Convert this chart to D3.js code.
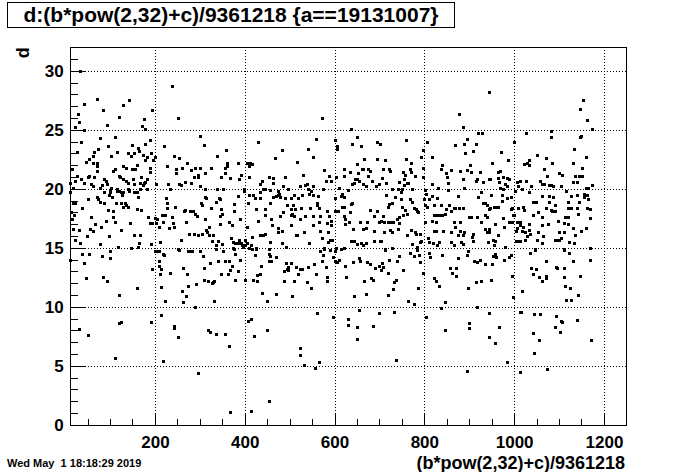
<!DOCTYPE html>
<html><head><meta charset="utf-8">
<script src="https://cdn.jsdelivr.net/npm/d3@7"></script>
<style>
html,body{margin:0;padding:0;background:#fff;}
svg{display:block;}
text{font-family:"Liberation Sans",Arial,Helvetica,sans-serif;font-weight:bold;fill:#000;}
</style></head>
<body><svg id="c" width="696" height="472"></svg>
<script>
const titleText = "d:(b*pow(2,32)+c)/9361218 {a==19131007}";
const xTitle = "(b*pow(2,32)+c)/9361218";
const yTitle = "d";
const dateText = "Wed May  1 18:18:29 2019";
const xDomain = [10, 1250];
const yDomain = [0, 32];
const xTickValues = [200, 400, 600, 800, 1000, 1200];
const xTickLabels = ["200", "400", "600", "800", "1000", "1200"];
const yTickValues = [0, 5, 10, 15, 20, 25, 30];
const yTickLabels = ["0", "5", "10", "15", "20", "25", "30"];

// [x, d] points, grouped by x range
const pointsSeg1 = [[34,30.0],[239,28.7],[72,27.6],[41,27.2],[142,27.5],[130,27.1],[85,26.7],[29,26.3],[121,26.1],[32,25.7],[194,26.7],[252,26.0],[176,25.9],[93,25.4],[21,25.2],[41,25.0],[172,25.3],[179,25.1],[301,24.5],[78,24.3],[36,24.0],[112,24.4],[188,24.1],[310,23.7],[179,23.8],[96,23.6],[221,23.6],[148,23.7],[163,23.5],[74,23.4],[27,23.1],[65,23.1],[115,23.1],[140,23.0],[154,23.0],[165,23.2],[174,22.9],[192,23.0],[146,22.8],[103,22.8],[63,22.8],[243,22.8],[183,22.7],[254,22.6],[201,22.7],[196,22.4],[47,22.3],[54,22.5],[61,22.2],[70,22.2],[179,22.4],[272,22.2],[16,21.7],[70,21.9],[228,21.9],[130,21.9],[136,21.8],[159,22.0],[156,21.7],[150,21.7],[112,21.7],[107,21.5],[190,21.8],[248,21.7],[261,21.8],[290,21.8],[301,21.8],[281,21.6],[72,21.5],[190,21.4],[248,21.3],[312,21.3],[27,21.1],[50,21.0],[54,21.1],[65,21.0],[119,21.1],[123,21.0],[295,21.2],[295,21.0],[286,21.0],[130,20.8],[136,20.7],[152,20.8],[170,21.0],[183,20.8],[179,20.6],[176,20.5],[167,20.5],[154,20.4],[139,20.5],[23,20.7],[36,20.8],[87,20.8],[92,20.7],[268,20.6],[281,20.5],[12,20.5],[58,20.4],[41,20.5],[63,20.2],[78,20.1],[83,20.3],[94,20.4],[174,20.3],[167,20.0],[183,20.0],[203,20.4],[230,20.4],[254,20.4],[259,20.3],[234,20.0],[17,20.1],[103,20.1],[116,20.0],[139,20.0],[301,20.2],[312,20.0],
[12,19.7],[87,19.7],[99,19.8],[101,19.7],[116,19.8],[121,19.8],[125,19.7],[130,19.7],[143,19.8],[154,19.7],[161,19.7],[98,19.5],[105,19.3],[163,19.3],[70,19.3],[127,19.5],[225,19.2],[314,19.2],[312,19.3],[52,19.1],[74,19.1],[78,18.9],[23,18.8],[18,18.8],[134,18.8],[125,18.8],[114,18.8],[87,18.8],[228,18.8],[303,18.8],[305,18.6],[38,18.4],[130,18.5],[139,18.5],[136,18.6],[228,18.4],[245,18.5],[161,18.3],[170,18.2],[268,18.2],[285,18.1],[279,18.1],[96,18.2],[14,18.0],[265,18.1],[107,18.1],[290,17.9],[20,17.8],[216,17.8],[223,17.8],[294,17.7],[58,17.6],[107,17.6],[185,17.6],[239,17.6],[201,17.5],[205,17.4],[16,17.4],[312,17.4],[92,17.3],[112,17.2],[219,17.2],[270,17.2],[145,17.1],[188,17.1],[194,17.1],[203,17.1],[241,17.1],[67,17.0],[81,16.8],[243,16.8],[208,16.8],[232,16.7],[56,16.6],[18,16.6],[125,16.5],[32,16.5],[314,16.5],[61,16.4],[317,16.3],[277,16.2],[288,16.2],[297,16.1],[305,16.2],[154,16.1],[167,16.1],[49,16.0],[98,16.0],[21,15.7],[259,15.7],[212,15.5],[34,15.4],[165,15.4],[78,15.3],[192,15.3],[163,15.1],[118,15.1],[147,15.0],[252,14.9],
[38,14.5],[54,14.5],[83,14.3],[101,14.7],[99,14.1],[12,14.0],[43,13.7],[201,14.7],[205,14.7],[210,14.7],[217,14.5],[221,14.4],[254,14.8],[274,14.7],[279,14.7],[283,14.7],[301,14.7],[308,14.3],[210,13.85],[208,13.5],[323,13.7],[194,13.2],[214,13.2],[212,12.8],[234,12.9],[263,13.3],[272,12.8],[310,13.3],[47,12.4],[85,12.5],[94,12.2],[159,11.6],[119,11.0],[214,11.7],[274,11.8],[292,11.9],[310,12.3],[319,12.2],[261,11.3],[270,10.9],[223,10.5],[263,10.4],[290,9.95],[214,9.3],[121,8.6],[125,8.7],[192,8.7],[32,8.1],[52,7.6],[243,8.4],[243,8.2],[252,7.4],[319,8.0],[110,5.7],[219,5.4],[297,4.4]];

const pointsSeg2 = [[571,26.0],[430,24.0],[559,24.2],[602,24.1],[606,23.6],[606,23.4],[359,23.3],[482,23.3],[542,23.4],[339,22.8],[553,22.7],[468,22.6],[517,22.3],[361,22.2],[386,22.2],[406,22.2],[412,22.2],[417,22.1],[410,21.9],[326,21.8],[355,21.8],[361,21.9],[392,21.2],[355,21.3],[348,21.0],[368,20.9],[388,20.8],[410,21.0],[455,21.0],[464,20.9],[490,21.0],[530,21.2],[577,21.6],[622,21.7],[588,21.1],[604,21.0],[622,21.1],[439,20.7],[580,20.7],[593,20.7],[464,20.5],[433,20.4],[539,20.4],[535,20.3],[524,20.2],[486,20.2],[553,20.2],[575,20.0],[611,20.1],[339,20.0],[352,20.0],[399,20.0],[399,19.8],[441,20.0],[446,20.0],[435,19.7],[457,19.9],[473,19.8],[497,20.0],[542,20.0],[548,19.8],[631,19.9],[410,19.5],[419,19.5],[477,19.6],[470,19.4],[475,19.5],[479,19.3],[464,19.3],[490,19.2],[510,19.5],[528,19.5],[544,19.6],[551,19.5],[564,19.4],[617,19.6],[615,19.4],[343,19.2],[346,19.1],[386,19.4],[424,19.2],[435,19.2],[502,19.2],[519,19.2],[602,19.2],[622,19.3],[337,18.9],[408,18.8],[457,18.8],[495,18.6],[508,18.6],[526,18.4],[546,18.4],[562,18.8],[562,18.6],[566,18.4],[617,18.5],[622,18.5],[326,18.4],[377,18.7],[348,18.3],[426,18.3],[446,18.3],[504,18.3],[513,18.3],[584,18.1],[602,18.1],[608,18.1],[377,18.1],[486,18.0],[506,17.9],[346,17.7],[446,17.8],[504,17.8],[510,17.7],[479,17.7],[535,17.7],[551,17.7],[568,17.7],[588,17.7],[622,17.7],[350,17.9],[390,17.4],[430,17.3],[459,17.4],[522,17.4],[566,17.2],[593,17.3],[624,17.4],[364,17.2],[372,16.9],[321,16.8],[346,17.0],[406,16.8],[461,16.9],[475,16.7],[502,16.9],[551,16.9],[584,17.1],[593,16.9],[624,17.0],[533,16.3],[475,16.3],[482,16.4],[517,16.1],[515,16.1],[568,16.4],[586,16.3],[321,16.1],[330,16.1],[417,15.9],[433,16.1],[441,16.1],[446,16.2],[573,15.8],[370,15.8],[328,15.6],[341,15.6],[388,15.7],[401,15.7],[591,15.7],[595,15.7],[350,15.3],[335,15.2],[375,15.5],[379,15.4],[384,15.4],[392,15.4],[395,15.2],[397,15.1],[401,15.2],[406,15.4],[410,15.0],[415,15.2],[426,15.0],[457,15.5],[484,15.4],[493,15.1],[544,15.4],[577,15.0],[586,15.5],[604,15.0],[620,15.0],[375,15.0],
[337,14.9],[352,14.7],[377,14.9],[379,14.5],[417,14.9],[426,14.9],[424,14.4],[453,14.9],[453,14.5],[457,14.3],[470,14.2],[390,14.0],[341,13.85],[357,13.85],[366,13.85],[372,13.5],[368,13.1],[384,13.0],[348,12.8],[363,12.75],[330,12.1],[332,12.2],[328,12.0],[379,12.3],[401,12.3],[419,12.3],[428,12.2],[428,12.7],[435,12.75],[437,13.5],[453,13.85],[459,13.85],[493,13.7],[502,13.7],[497,13.4],[495,13.2],[488,13.0],[497,13.1],[515,13.4],[524,13.2],[528,13.2],[542,13.4],[555,13.6],[573,13.85],[582,13.4],[568,14.7],[575,14.4],[577,14.9],[591,14.8],[600,14.7],[597,14.2],[600,13.9],[606,13.8],[611,14.0],[615,14.9],[624,13.5],[559,12.8],[519,12.75],[584,12.5],[584,12.2],[626,12.5],[488,12.2],[510,12.2],[539,12.1],[548,11.6],[470,11.05],[439,11.2],[450,10.5],[506,10.9],[332,10.5],[562,9.5],[597,9.1],[631,9.0],[629,8.5],[415,9.0],[408,8.8],[450,8.0],[323,7.9],[337,7.7],[357,7.7],[366,6.7],[421,7.5],[522,6.5],[524,5.9],[533,5.1],[566,5.3],[557,4.8],[455,2.0],[368,1.05],[415,1.2]];

const pointsSeg3 = [[943,28.2],[878,26.3],[885,25.2],[637,25.1],[920,24.7],[929,24.7],[649,24.4],[896,24.2],[640,23.8],[660,23.6],[695,24.0],[702,23.8],[760,24.1],[807,24.0],[869,23.7],[889,23.8],[916,23.8],[798,23.3],[909,23.2],[891,23.0],[793,22.7],[818,22.7],[666,22.5],[695,22.5],[713,22.4],[760,22.5],[771,22.2],[651,22.1],[902,22.0],[840,22.0],[662,21.7],[664,21.7],[675,21.7],[678,21.5],[709,21.7],[722,21.7],[724,21.5],[769,21.7],[798,21.8],[836,21.7],[860,21.6],[880,21.5],[905,21.4],[925,21.4],[896,21.6],[635,21.4],[653,21.3],[753,21.4],[771,21.4],[758,21.2],[849,21.3],[851,21.0],[675,21.1],[646,20.8],[651,20.8],[655,20.7],[684,20.7],[706,20.9],[715,20.5],[744,20.6],[755,20.8],[780,21.1],[762,20.5],[798,21.0],[853,20.5],[885,20.8],[914,20.7],[918,20.8],[931,20.6],[945,20.8],[640,20.4],[644,20.5],[664,20.4],[669,20.2],[693,20.2],[700,20.4],[729,20.0],[742,20.0],[751,20.0],[755,20.3],[764,20.5],[773,20.0],[816,20.4],[831,20.1],[853,19.9],[889,20.1],[802,19.9],[804,19.6],[749,19.7],[715,19.5],[876,19.4],[920,19.3],[927,19.7],[818,19.4],[811,19.1],[829,19.2],[800,19.1],[735,19.3],[749,19.1],[767,19.1],[773,18.9],[722,18.7],[727,18.8],[640,18.8],[637,18.7],[720,18.5],[751,18.5],[778,18.4],[782,18.3],[784,18.1],[802,18.6],[807,18.5],[822,18.6],[836,18.6],[856,18.6],[865,18.4],[849,18.3],[860,18.1],[869,18.4],[878,18.4],[887,18.4],[931,18.8],[936,18.8],[940,18.6],[945,18.3],[635,18.0],[680,18.2],[695,18.1],[758,18.2],[762,17.9],[787,18.0],[822,17.8],[827,17.8],[833,17.8],[840,17.8],[847,17.9],[900,17.6],[905,17.6],[918,17.6],[934,17.8],[940,17.6],[689,17.7],[709,17.7],[740,17.4],[744,17.6],[753,17.8],[633,17.2],[657,17.2],[673,17.2],[700,17.2],[704,17.3],[711,17.2],[718,17.2],[722,17.2],[727,17.2],[731,17.2],[744,17.1],[802,17.2],[816,17.3],[825,17.2],[867,17.2],[880,17.2],[927,17.2],[869,16.8],[642,16.6],[664,16.6],[669,16.7],[689,16.4],[711,16.3],[724,16.5],[727,16.3],[742,16.6],[771,16.5],[762,16.1],[780,16.3],[782,16.2],[791,16.2],[822,16.4],[827,16.4],[842,16.4],[860,16.3],[880,16.4],[889,16.3],[874,16.1],[885,16.1],[909,16.2],[934,16.6],[940,16.3],[945,16.6],[809,15.8],[811,15.5],[820,15.4],[833,15.5],[860,15.5],[882,15.5],[907,15.9],[909,15.6],[791,15.5],[793,15.6],[773,15.3],[784,15.1],[727,15.0],[713,14.9],[704,15.6],[702,15.6],[689,15.6],[637,15.6],[644,15.6],[649,15.3],[660,15.4],[664,15.2],[671,15.4],[829,15.2],[865,15.2],[887,15.3],
[713,14.8],[729,15.0],[784,14.8],[769,14.6],[789,14.4],[776,14.3],[811,14.6],[813,14.2],[840,14.4],[896,14.4],[898,14.7],[744,14.3],[722,14.0],[655,14.1],[657,13.85],[642,13.8],[673,13.8],[678,13.6],[691,13.3],[698,13.5],[706,13.7],[709,13.4],[704,13.1],[740,13.85],[720,12.9],[753,13.1],[791,13.8],[796,12.9],[858,13.3],[862,12.9],[871,13.3],[871,12.6],[874,14.1],[911,13.9],[918,13.8],[923,14.0],[936,13.6],[666,12.2],[682,12.4],[686,12.3],[733,12.1],[738,12.3],[731,11.5],[787,11.6],[822,12.4],[825,12.2],[833,11.8],[898,11.6],[914,12.1],[927,12.2],[671,11.05],[718,11.0],[644,10.9],[764,10.5],[778,10.2],[847,10.4],[838,9.9],[918,10.0],[943,9.5],[655,9.7],[698,9.5],[733,9.6],[649,8.3],[686,8.4],[804,9.1],[845,8.0],[900,8.6],[900,8.2],[945,7.4],[651,7.3],[738,5.5],[894,4.6]];

const pointsSeg4 = [[1154,27.5],[1147,26.8],[1163,25.8],[1174,25.1],[1027,24.7],[1083,24.9],[1083,24.4],[1150,24.5],[1147,24.4],[1000,24.0],[1134,23.4],[971,23.1],[1052,22.9],[1159,22.7],[1161,22.7],[1072,22.6],[987,22.4],[1032,22.4],[1029,22.2],[1023,22.1],[1034,22.0],[951,22.2],[1085,22.2],[1132,22.2],[1152,21.8],[1067,21.7],[969,21.5],[963,21.4],[1101,21.3],[1107,21.2],[1074,21.1],[1136,21.1],[1145,21.1],[1152,21.1],[947,20.8],[965,20.9],[976,21.0],[983,20.9],[989,20.8],[967,20.6],[1014,20.7],[1027,20.7],[1058,20.7],[1130,20.6],[1141,20.6],[1007,20.55],[980,20.4],[983,20.2],[969,20.1],[976,20.0],[1009,20.2],[1038,20.2],[1063,20.4],[1067,20.4],[1078,20.3],[1083,20.3],[1087,20.2],[1105,20.2],[1159,20.1],[1165,20.1],[1174,20.3],[1018,20.0],[1003,19.8],[1034,19.7],[1116,19.8],[949,19.45],[974,19.5],[1156,19.6],[1163,19.45],[1127,19.4],[1139,19.45],[1061,19.4],[992,19.3],[985,19.2],[974,19.0],[1078,19.4],[1087,19.3],[1078,18.9],[1156,19.3],[1165,19.1],[1041,18.85],[1047,18.9],[1049,18.85],[1119,18.85],[1145,18.85],[947,18.4],[956,18.5],[960,18.5],[965,18.5],[996,18.4],[994,18.3],[1009,18.4],[1020,18.5],[1023,18.2],[1090,18.6],[1072,18.4],[1081,18.2],[1085,18.1],[1090,18.1],[1119,18.4],[1123,18.4],[1127,18.4],[1141,18.4],[1163,18.4],[1168,18.3],[1054,18.0],[1000,17.8],[998,17.75],[1043,17.75],[1143,17.9],[976,17.5],[1061,17.6],[1114,17.6],[1119,17.6],[1170,17.5],[989,17.2],[996,17.2],[1007,17.2],[1012,17.2],[1014,16.9],[1032,17.0],[1076,17.0],[1098,17.3],[1110,17.1],[1121,17.0],[957,17.0],[978,16.8],[1061,16.9],[1007,16.7],[1020,16.8],[1130,16.7],[1161,16.7],[943,16.3],[965,16.1],[1005,16.4],[1018,16.4],[1025,16.3],[1034,16.5],[1036,16.2],[1054,16.3],[1101,16.3],[1110,16.3],[1150,16.4],[1136,16.1],[1029,15.97],[1065,15.97],[954,15.7],[958,15.6],[1005,15.6],[1009,15.6],[1014,15.6],[1025,15.7],[1052,15.7],[1092,15.7],[1096,15.7],[1101,15.7],[1105,15.8],[942,15.5],[956,15.2],[980,15.1],[1063,15.4],[1123,15.5],[1134,15.4],[1047,14.9],[1112,14.9],[1168,15.0],
[958,14.5],[954,14.3],[960,14.2],[951,13.6],[978,14.0],[989,14.2],[992,14.4],[949,12.3],[996,12.6],[1036,14.6],[1047,14.8],[1070,13.9],[1038,13.3],[1049,13.2],[1041,12.8],[1056,12.5],[1063,12.2],[1070,12.6],[1072,12.4],[1094,13.4],[1096,13.3],[1110,13.3],[1112,14.8],[1123,14.6],[1130,13.9],[1110,12.5],[1147,12.6],[1114,11.8],[1125,11.6],[1143,11.0],[1116,10.6],[1127,10.6],[1170,14.0],[1018,11.3],[998,10.8],[1012,9.6],[1016,9.6],[1045,9.4],[1058,9.4],[1094,9.2],[1105,8.8],[1107,8.7],[1139,8.9],[1090,8.3],[1103,7.9],[1043,7.8],[1056,7.2],[967,8.3],[958,6.9],[1172,7.2],[1045,6.1],[985,5.3],[1014,4.5],[1074,4.7]];

const points = pointsSeg1.concat(pointsSeg2, pointsSeg3, pointsSeg4);

const W = 696, H = 472;
const frame = {l: 69.6, r: 626.4, t: 47.2, b: 424.8};
const svg = d3.select("#c");
svg.append("rect").attr("width", W).attr("height", H).attr("fill", "#fff");

const x = d3.scaleLinear().domain(xDomain).range([frame.l, frame.r]);
const y = d3.scaleLinear().domain(yDomain).range([frame.b, frame.t]);

// grid
const grid = svg.append("g").attr("stroke", "#000").attr("stroke-width", 1)
  .attr("stroke-dasharray", "1,2").attr("shape-rendering", "crispEdges");
grid.selectAll("line.gx").data(xTickValues).enter().append("line")
  .attr("x1", d => Math.round(x(d)) + 0.5).attr("x2", d => Math.round(x(d)) + 0.5)
  .attr("y1", frame.t).attr("y2", frame.b);
grid.selectAll("line.gy").data(yTickValues.filter(v => v > 0)).enter().append("line")
  .attr("y1", d => Math.round(y(d)) + 0.5).attr("y2", d => Math.round(y(d)) + 0.5)
  .attr("x1", frame.l).attr("x2", frame.r);

// axes (ticks inward like ROOT)
const xMinor = d3.range(50, 1251, 50).filter(v => xTickValues.indexOf(v) < 0);
const yMinor = d3.range(1, 32, 1).filter(v => yTickValues.indexOf(v) < 0);

const gxMinor = svg.append("g").attr("transform", `translate(0,${frame.b})`)
  .call(d3.axisBottom(x).tickValues(xMinor).tickSize(-5.7).tickFormat(""));
const gx = svg.append("g").attr("transform", `translate(0,${frame.b})`)
  .call(d3.axisBottom(x).tickValues(xTickValues).tickSize(-11.3).tickPadding(11)
    .tickFormat((d, i) => xTickLabels[i]));
const gyMinor = svg.append("g").attr("transform", `translate(${frame.l},0)`)
  .call(d3.axisLeft(y).tickValues(yMinor).tickSize(-8.4).tickFormat(""));
const gy = svg.append("g").attr("transform", `translate(${frame.l},0)`)
  .call(d3.axisLeft(y).tickValues(yTickValues).tickSize(-16.7).tickPadding(6)
    .tickFormat((d, i) => yTickLabels[i]));

[gxMinor, gx, gyMinor, gy].forEach(g => {
  g.select(".domain").remove();
  g.selectAll("line").attr("stroke", "#000").attr("shape-rendering", "crispEdges");
  g.selectAll("text").attr("font-family", null).attr("font-size", 17)
    .style("font-family", '"Liberation Sans", Arial, sans-serif').style("font-weight", "bold");
});

// frame
svg.append("rect").attr("x", Math.round(frame.l) + 0.5).attr("y", Math.round(frame.t) + 0.5)
  .attr("width", Math.round(frame.r) - Math.round(frame.l)).attr("height", Math.round(frame.b) - Math.round(frame.t))
  .attr("fill", "none").attr("stroke", "#000").attr("stroke-width", 1).attr("shape-rendering", "crispEdges");

// points
svg.append("g").selectAll("rect.pt").data(points).enter().append("rect")
  .attr("x", d => Math.round(x(d[0])) - 1).attr("y", d => Math.round(y(d[1])) - 1)
  .attr("width", 3).attr("height", 3).attr("fill", "#000").attr("shape-rendering", "crispEdges");

// title box
svg.append("rect").attr("x", 7.5).attr("y", 2.5).attr("width", 447).attr("height", 25)
  .attr("fill", "#fff").attr("stroke", "#000").attr("shape-rendering", "crispEdges");
svg.append("text").attr("x", 231).attr("y", 22).attr("text-anchor", "middle")
  .attr("font-size", 21).text(titleText);

// axis titles
svg.append("text").attr("x", 625).attr("y", 469).attr("text-anchor", "end")
  .attr("font-size", 18).text(xTitle);
svg.append("text").attr("transform", `translate(29,${frame.t}) rotate(-90)`)
  .attr("text-anchor", "end").attr("font-size", 18).text(yTitle);

// date
svg.append("text").attr("x", 7).attr("y", 467).attr("font-size", 11)
  .style("white-space", "pre").attr("xml:space", "preserve").text(dateText);
</script></body></html>
